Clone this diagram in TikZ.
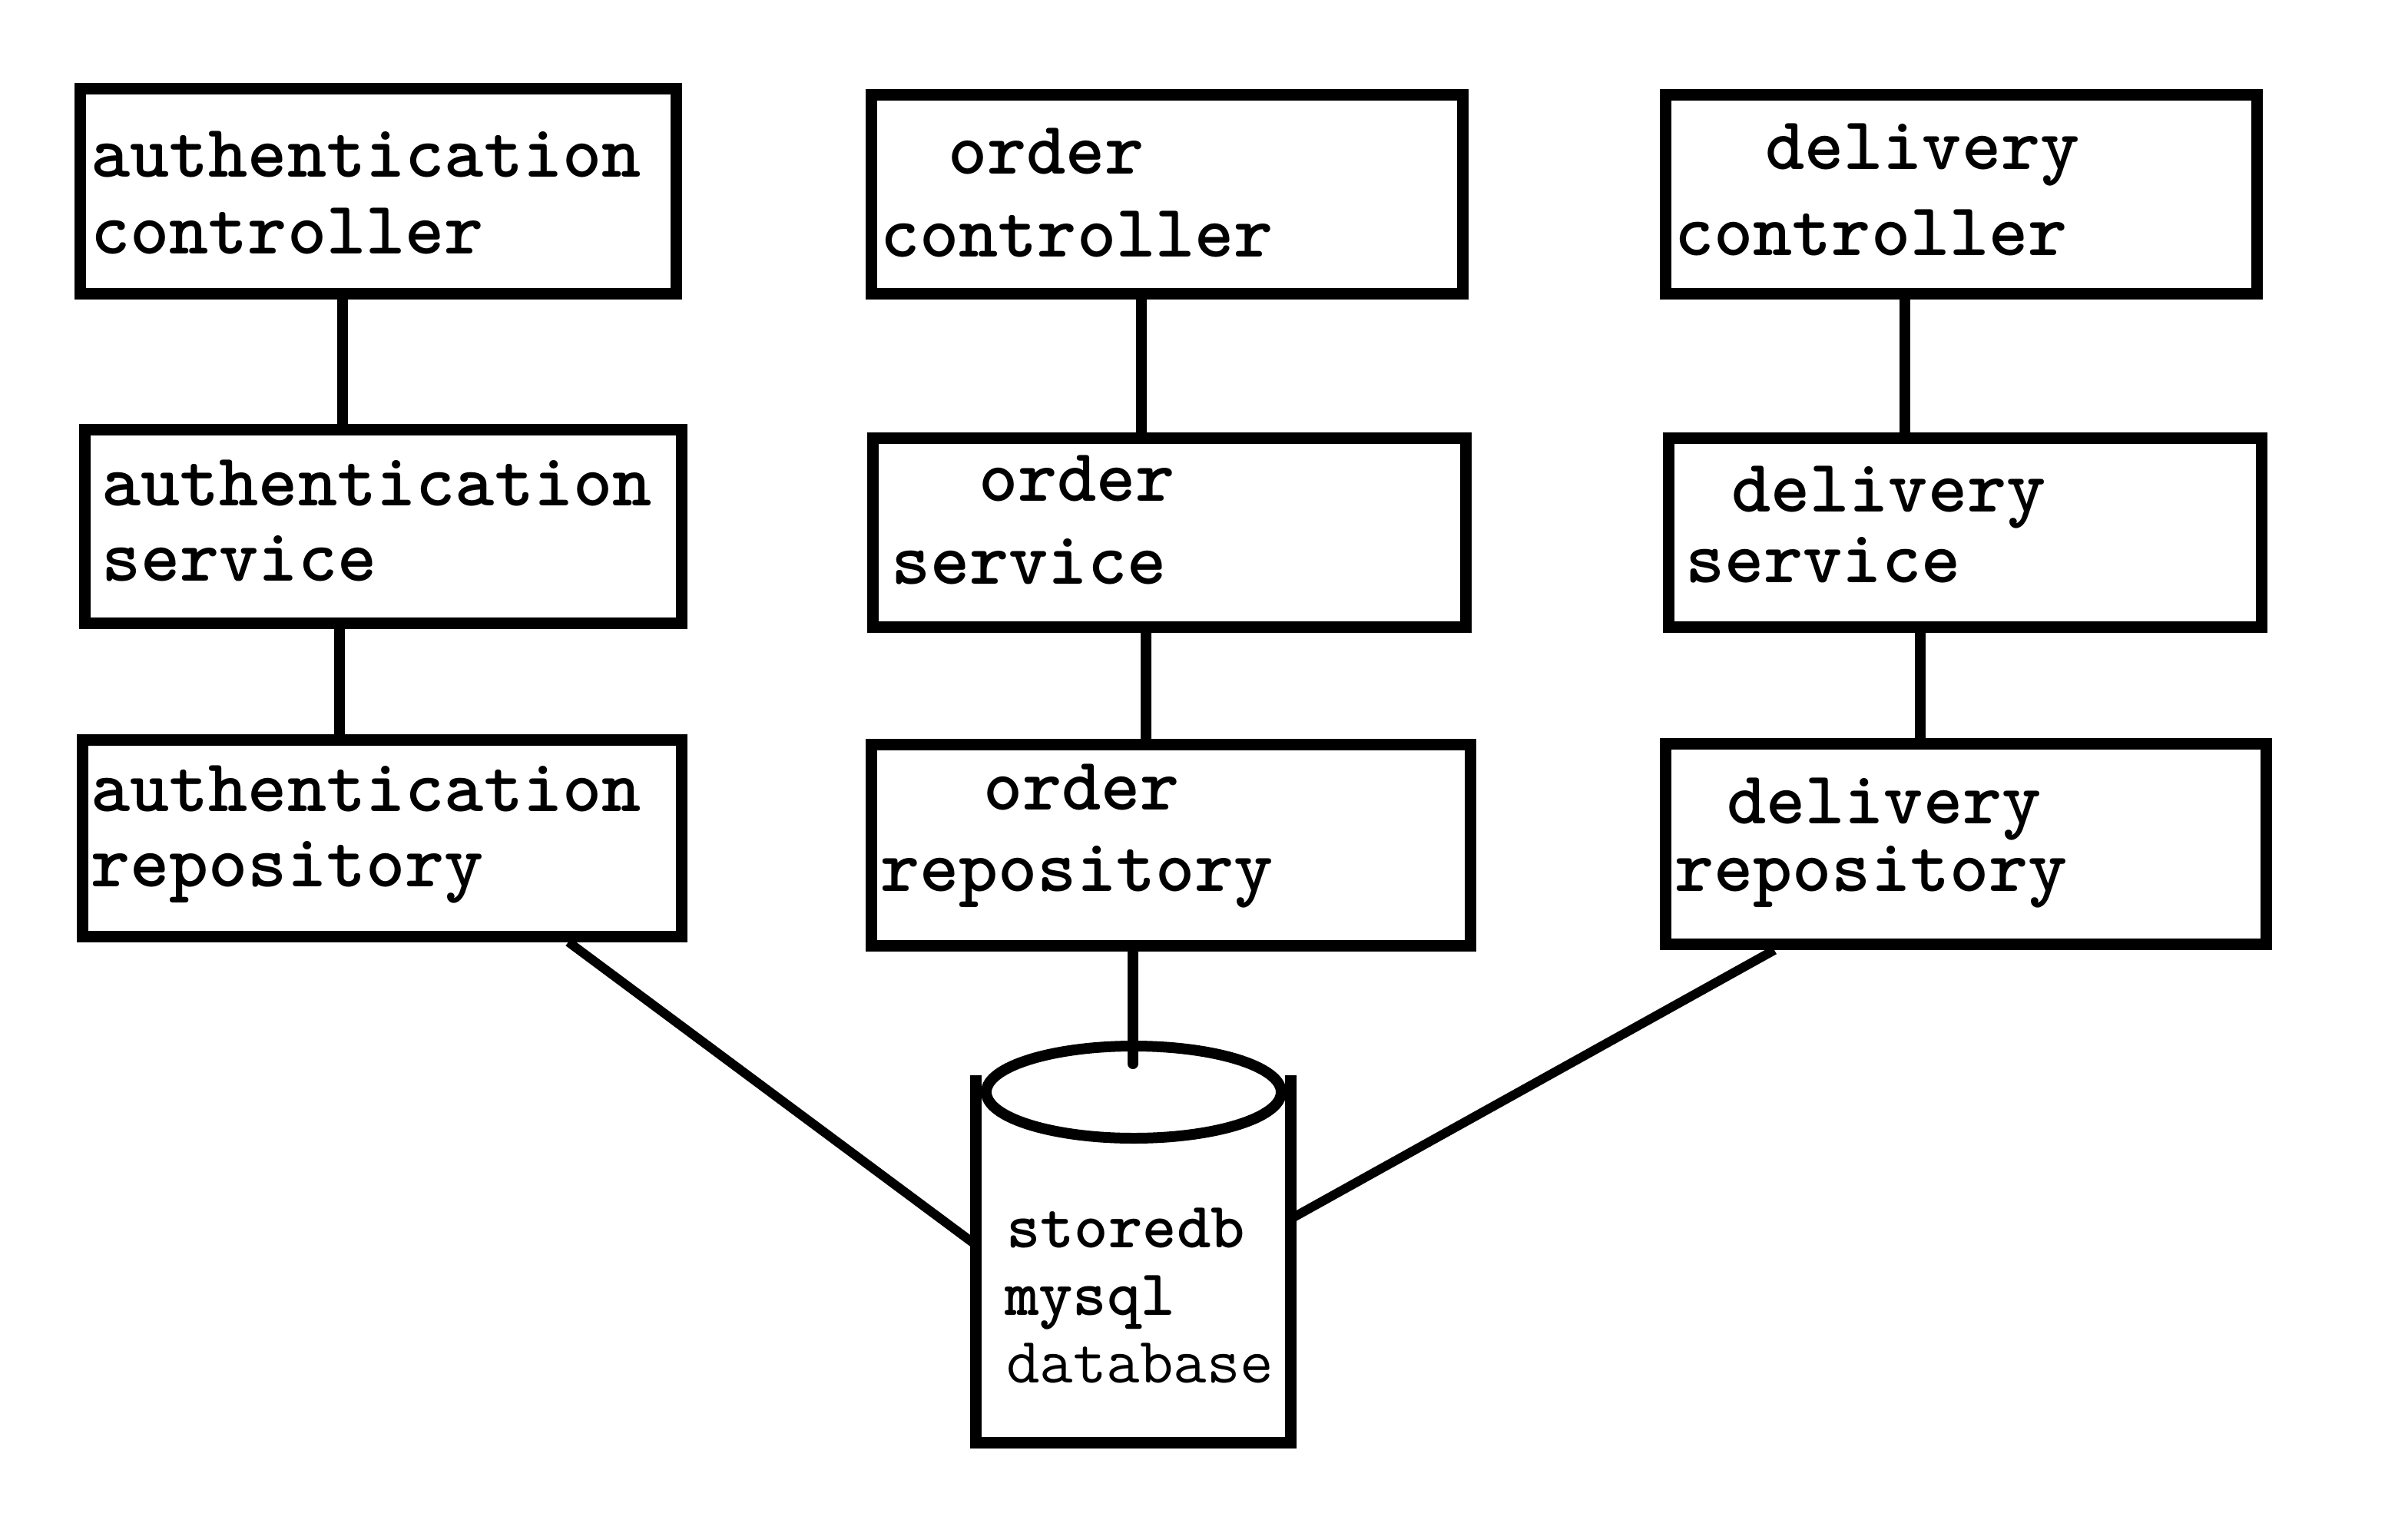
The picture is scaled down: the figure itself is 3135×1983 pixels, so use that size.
\documentclass[tikz,border=0pt]{standalone}
\usepackage{fontspec}
\begin{document}
\begin{tikzpicture}[x=1pt,y=-1pt,
  box/.style={draw, line width=15pt, rectangle, inner sep=0pt},
  lbl/.style={anchor=base west, inner sep=0pt, font=\ttfamily\fontsize{97.5}{110}\selectfont\bfseries},
  dblbl/.style={anchor=base west, inner sep=0pt, font=\ttfamily\fontsize{84.5}{96}\selectfont},
  dbbold/.style={dblbl, font=\ttfamily\fontsize{84.5}{96}\selectfont\bfseries},
  conn/.style={line width=14pt},
  diag/.style={line width=12pt}]
\useasboundingbox (0,0) rectangle (3135,1983);
% boxes
\node[box, minimum width=776pt, minimum height=266pt] (ac) at (492,249) {};
\node[box, minimum width=770pt, minimum height=258pt] (oc) at (1519,253) {};
\node[box, minimum width=770pt, minimum height=258pt] (dc) at (2553,253) {};
\node[box, minimum width=777pt, minimum height=252pt] (as) at (498.5,685) {};
\node[box, minimum width=772pt, minimum height=246pt] (os) at (1522,693) {};
\node[box, minimum width=772pt, minimum height=246pt] (ds) at (2558,693) {};
\node[box, minimum width=780pt, minimum height=256pt] (ar) at (497,1091) {};
\node[box, minimum width=780pt, minimum height=262pt] (or) at (1524,1100.5) {};
\node[box, minimum width=782pt, minimum height=261pt] (dr) at (2559,1099) {};
% labels
\node[lbl] (ac1) at (118,230) {authentication};
\node[lbl] (ac2) at (118,330) {controller};
\node[lbl] (oc1) at (1234,226) {order};
\node[lbl] (oc2) at (1146,334) {controller};
\node[lbl] (dc1) at (2298,220) {delivery};
\node[lbl] (dc2) at (2180,332) {controller};
\node[lbl] (as1) at (132,658) {authentication};
\node[lbl] (as2) at (132,756) {service};
\node[lbl] (os1) at (1274,652) {order};
\node[lbl] (os2) at (1160,760) {service};
\node[lbl] (ds1) at (2254,666) {delivery};
\node[lbl] (ds2) at (2194,758) {service};
\node[lbl] (ar1) at (118,1056) {authentication};
\node[lbl] (ar2) at (118,1154) {repository};
\node[lbl] (or1) at (1280,1054) {order};
\node[lbl] (or2) at (1146,1160) {repository};
\node[lbl] (dr1) at (2248,1072) {delivery};
\node[lbl] (dr2) at (2180,1160) {repository};
% database cylinder
\coordinate (dbtl) at (1270,1400);
\coordinate (dbbl) at (1270,1878);
\coordinate (dbbr) at (1680,1878);
\coordinate (dbtr) at (1680,1400);
\coordinate (dbc) at (1476,1422);
\draw[line width=15pt] (dbtl) -- (dbbl) -- (dbbr) -- (dbtr);
\draw[line width=14pt] (dbc) ellipse [x radius=192, y radius=60];
\node[dbbold] (db1) at (1310,1624) {storedb};
\node[dbbold] (db2) at (1308,1712) {mysql};
\node[dblbl] (db3) at (1310,1800) {database};
% connectors
\coordinate (x1) at (446,0);
\coordinate (x2) at (1486,0);
\coordinate (x3) at (2480,0);
\coordinate (x4) at (442,0);
\coordinate (x5) at (1492,0);
\coordinate (x6) at (2500,0);
\coordinate (x7) at (1475,0);
\draw[conn] (ac.south -| x1) -- (as.north -| x1);
\draw[conn] (oc.south -| x2) -- (os.north -| x2);
\draw[conn] (dc.south -| x3) -- (ds.north -| x3);
\draw[conn] (as.south -| x4) -- (ar.north -| x4);
\draw[conn] (os.south -| x5) -- (or.north -| x5);
\draw[conn] (ds.south -| x6) -- (dr.north -| x6);
\coordinate (dbtop) at (1475,1385);
\draw[conn, line cap=round] (or.south -| x7) -- (dbtop);
\coordinate (arout) at (740,0);
\coordinate (drout) at (2310,0);
\coordinate (dbl) at (1272,1622);
\coordinate (dbr) at (1684,1585);
\draw[diag] (ar.south -| arout) -- (dbl);
\draw[diag] (dr.south -| drout) -- (dbr);
\end{tikzpicture}
\end{document}
